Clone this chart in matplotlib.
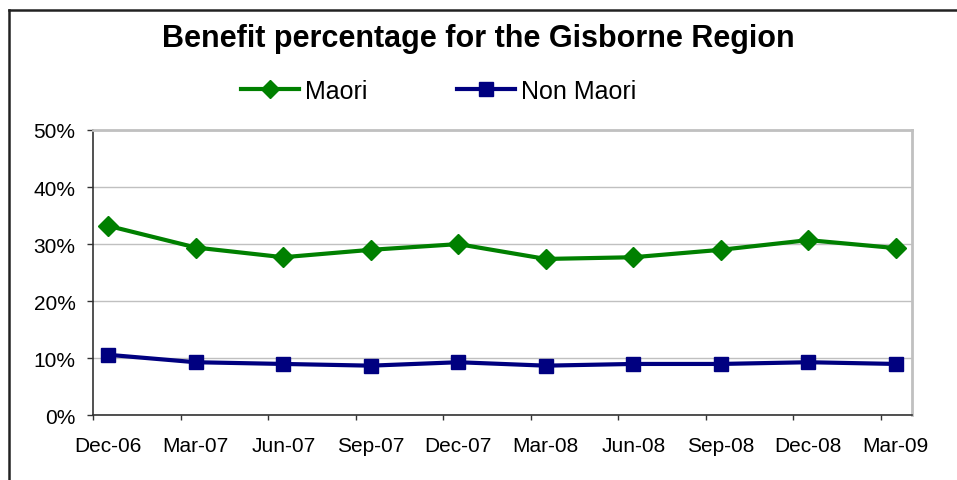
import matplotlib.pyplot as plt
from matplotlib.lines import Line2D
from matplotlib.ticker import FixedLocator, FuncFormatter
import numpy as np

plt.rcParams['font.family'] = ['Liberation Sans', 'DejaVu Sans']

# quarterly benefit share, percent
quarters = ['Dec-06', 'Mar-07', 'Jun-07', 'Sep-07', 'Dec-07',
            'Mar-08', 'Jun-08', 'Sep-08', 'Dec-08', 'Mar-09']
maori = [33.2, 29.4, 27.7, 29.0, 30.0, 27.4, 27.7, 29.0, 30.7, 29.3]
non_maori = [10.6, 9.3, 9.0, 8.7, 9.3, 8.7, 9.0, 9.0, 9.3, 9.0]
y_ticks = [0, 10, 20, 30, 40, 50]

GREEN = '#008000'
NAVY = '#000080'
GRID = '#c0c0c0'

fig = plt.figure(figsize=(9.57, 4.81), dpi=100)
fig.patch.set_facecolor('white')
ax = fig.add_axes([0.0975, 0.1345, 0.9533 - 0.0975, 0.7277 - 0.1345])

x = np.arange(len(quarters))
ax.plot(x, maori, color=GREEN, lw=3, marker='D', markersize=10.5,
        markerfacecolor=GREEN, markeredgecolor=GREEN, label='Maori',
        solid_joinstyle='miter', zorder=3)
ax.plot(x, non_maori, color=NAVY, lw=3, marker='s', markersize=10.5,
        markerfacecolor=NAVY, markeredgecolor=NAVY, label='Non Maori',
        solid_joinstyle='miter', zorder=3)

# date-style axis: tick marks sit half a month before each quarter
off = 0.1714
ax.set_xlim(-off, len(quarters) - 1 + 0.189)
ax.set_ylim(0, 50)

ax.xaxis.set_major_locator(FixedLocator(x - off))
ax.xaxis.set_major_formatter(FuncFormatter(lambda v, p: ''))
ax.xaxis.set_minor_locator(FixedLocator(x))
ax.set_xticklabels(quarters, minor=True)
ax.tick_params(axis='x', which='major', direction='out', length=3.6,
               width=1, color='#333333')
ax.tick_params(axis='x', which='minor', length=0, pad=15, labelsize=15)

ax.set_yticks(y_ticks)
ax.yaxis.set_major_formatter(FuncFormatter(lambda v, p: f'{v:.0f}%'))
ax.tick_params(axis='y', direction='out', length=4.3, width=1,
               color='#333333', pad=8.5, labelsize=15)

ax.grid(axis='y', color=GRID, lw=1)
ax.set_axisbelow(True)
for side in ['left', 'bottom']:
    ax.spines[side].set_color('#333333')
    ax.spines[side].set_linewidth(1.2)
for side in ['top', 'right']:
    ax.spines[side].set_color(GRID)
    ax.spines[side].set_linewidth(2)

fig.text(0.5, 1 - 39 / 481, 'Benefit percentage for the Gisborne Region',
         ha='center', va='center', fontsize=22, fontweight='bold')

fig.legend(loc='center left', bbox_to_anchor=(241 / 957, 1 - 92 / 481),
           ncol=2, frameon=False, fontsize=18, handlelength=2.3,
           handletextpad=0.25, columnspacing=3.6, borderpad=0,
           borderaxespad=0, markerscale=0.9)

# chart frame
fig.add_artist(Line2D([9 / 957, 1], [1 - 11 / 481, 1 - 11 / 481],
                      transform=fig.transFigure, color='#222222', lw=1.8))
fig.add_artist(Line2D([9 / 957, 9 / 957], [0, 1 - 11 / 481],
                      transform=fig.transFigure, color='#222222', lw=1.8))

fig.savefig('out.png', dpi=100, facecolor='white')
